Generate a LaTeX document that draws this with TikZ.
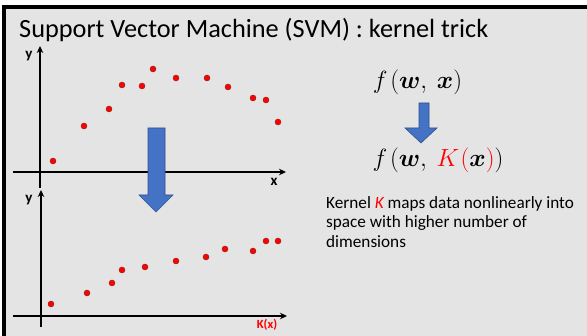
\documentclass[tikz,border=0pt]{standalone}
\usepackage{fontspec}
\usepackage{amsmath}
\usepackage{bm}
\setmainfont{Carlito}
\usetikzlibrary{arrows.meta}
\definecolor{bg}{HTML}{E4E4E4}
\definecolor{arrowblue}{HTML}{4472C4}
\definecolor{arrowedge}{HTML}{2F528F}
\definecolor{dotedge}{HTML}{8B1A1A}
\tikzset{
  dot/.style={circle,fill=red,draw=dotedge,line width=0.4pt,inner sep=0pt,minimum size=6pt},
  axis/.style={line width=1.7pt,-{Stealth[length=7pt,width=6.5pt]}},
  axislbl/.style={font=\bfseries\fontsize{15}{15}\selectfont,inner sep=0pt},
  bigarrow/.style={fill=arrowblue,draw=arrowedge,line width=0.6pt},
  formula/.style={inner sep=0pt,font=\fontsize{33}{33}\selectfont},
}
\begin{document}
\begin{tikzpicture}[x=1pt,y=-1pt]
\useasboundingbox (0,0) rectangle (587,336);
\fill[white] (0,0) rectangle (587,336);
\fill[bg] (4,7) rectangle (587,336);
\fill[black] (2,5) rectangle (587,9);
\fill[black] (2,5) rectangle (6,336);
% title
\node[anchor=base west,inner sep=0pt,font=\fontsize{26.3}{26.3}\selectfont] (title) at (19,38) {Support Vector Machine (SVM) : kernel trick};
% top plot axes
\coordinate (ty0) at (40,188);
\coordinate (ty1) at (40,46);
\coordinate (tx0) at (13,172);
\coordinate (tx1) at (286,172);
\draw[axis] (ty0) -- (ty1);
\draw[axis] (tx0) -- (tx1);
\node[axislbl] (tylbl) at (29,56) {y};
\node[axislbl] (txlbl) at (274,182) {x};
% top dots
\foreach \i/\p in {1/{53,161},2/{84,126},3/{109,109},4/{122,85},5/{142,86},6/{153,69},7/{176,78},8/{207,78},9/{228,87},10/{253,98},11/{266,100},12/{278,122}}
  \node[dot] (t\i) at (\p) {};
% bottom plot axes
\coordinate (by0) at (41,327);
\coordinate (by1) at (41,190);
\coordinate (bx0) at (13,316);
\coordinate (bx1) at (287,316);
\draw[axis] (by0) -- (by1);
\draw[axis] (bx0) -- (bx1);
\node[axislbl] (bylbl) at (29,200) {y};
\node[font=\bfseries\fontsize{12.5}{12.5}\selectfont,text=red,inner sep=0pt] (bxlbl) at (267,325) {K(x)};
% bottom dots
\foreach \i/\p in {1/{51,304},2/{87,293},3/{112,283},4/{122,270},5/{145,267},6/{176,261},7/{206,257},8/{225,249},9/{253,251},10/{266,241},11/{278,241}}
  \node[dot] (b\i) at (\p) {};
% big arrow
\draw[bigarrow] (148,128) -- (165,128) -- (165,195) -- (173,195) -- (156,212) -- (139,195) -- (148,195) -- cycle;
% formulas
\node[formula] (f1) at (417.5,82) {$f\mkern2mu(\bm{w},\mkern4mu\bm{x})$};
\draw[bigarrow] (419,103) -- (429,103) -- (429,128) -- (437,128) -- (421,143) -- (405,128) -- (419,128) -- cycle;
\node[formula] (f2) at (438,160) {$f\mkern2mu(\bm{w},\mkern4mu\textcolor{red}{K\mkern1mu(}\bm{x}\textcolor{red}{)})$};
\node[anchor=north west,inner sep=0pt,align=left,font=\fontsize{17.2}{19.5}\selectfont] (desc) at (326,196) {Kernel \textcolor{red}{\itshape K} maps data nonlinearly into\\space with higher number of\\dimensions};
\end{tikzpicture}
\end{document}
